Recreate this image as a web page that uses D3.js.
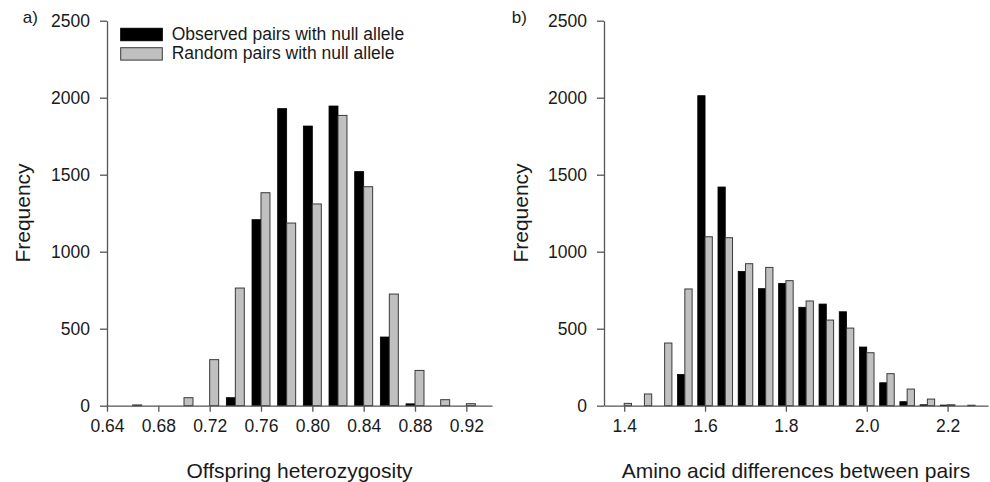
<!DOCTYPE html>
<html>
<head>
<meta charset="utf-8">
<script src="https://cdn.jsdelivr.net/npm/d3@7/dist/d3.min.js"></script>
<style>
  html, body { margin: 0; padding: 0; background: #fff; }
  svg { display: block; }
  text { font-family: Arial, "Liberation Sans", sans-serif; fill: #1a1a1a; }
</style>
</head>
<body>
<svg id="chart" width="990" height="482"></svg>
<script>
// ---------- Data ----------
const binsA = [0.66, 0.68, 0.70, 0.72, 0.74, 0.76, 0.78, 0.80, 0.82, 0.84, 0.86, 0.88, 0.90, 0.92];
const observedA = [0, 0, 0, 0, 52, 1208, 1929, 1816, 1946, 1520, 446, 12, 0, 0];
const randomA   = [5, 0, 52, 299, 764, 1383, 1186, 1310, 1885, 1422, 725, 229, 39, 13];
const xTicksA = [0.64, 0.68, 0.72, 0.76, 0.80, 0.84, 0.88, 0.92];

const binsB = [1.40, 1.45, 1.50, 1.55, 1.60, 1.65, 1.70, 1.75, 1.80, 1.85, 1.90, 1.95, 2.00, 2.05, 2.10, 2.15, 2.20, 2.25];
const observedB = [0, 0, 0, 203, 2013, 1420, 872, 760, 794, 639, 660, 610, 381, 149, 26, 6, 4, 0];
const randomB   = [15, 76, 407, 758, 1097, 1091, 922, 898, 812, 680, 556, 504, 344, 208, 108, 43, 6, 3];
const xTicksB = [1.4, 1.6, 1.8, 2.0, 2.2];

const yTicks = [0, 500, 1000, 1500, 2000, 2500];
const seriesNames = ["Observed pairs with null allele", "Random pairs with null allele"];

// ---------- Layout ----------
const svg = d3.select("#chart");
const yTop = 20.7, yBottom = 405.7;
const axisColor = "#555";
const colObs = "#000000", colRand = "#c0c0c0", strokeRand = "#3a3a3a";

const panels = [
  { label: "a)", bins: binsA, obs: observedA, rnd: randomA, ticks: xTicksA, domain: [0.64, 0.94],
    range: [107, 492], bw: 0.007, fmt: d3.format(".2f"), title: "Offspring heterozygosity",
    labelX: 22.7, freqX: 30, legend: true },
  { label: "b)", bins: binsB, obs: observedB, rnd: randomB, ticks: xTicksB, domain: [1.35, 2.30],
    range: [604, 988], bw: 0.018, fmt: d3.format(".1f"), title: "Amino acid differences between pairs",
    labelX: 511.7, freqX: 528, legend: false }
];

panels.forEach(p => {
  const x = d3.scaleLinear().domain(p.domain).range(p.range);
  const y = d3.scaleLinear().domain([0, 2500]).range([yBottom, yTop]);
  const g = svg.append("g");

  // bars
  const data = p.bins.map((b, i) => ({ b, o: p.obs[i], r: p.rnd[i] }));
  g.selectAll("rect.obs").data(data.filter(d => d.o > 0)).join("rect")
    .attr("class", "obs")
    .attr("x", d => x(d.b - p.bw))
    .attr("width", d => x(d.b) - x(d.b - p.bw))
    .attr("y", d => y(d.o))
    .attr("height", d => y(0) - y(d.o))
    .attr("fill", colObs).attr("stroke", colObs).attr("stroke-width", 0.8);
  g.selectAll("rect.rnd").data(data.filter(d => d.r > 0)).join("rect")
    .attr("class", "rnd")
    .attr("x", d => x(d.b))
    .attr("width", d => x(d.b + p.bw) - x(d.b))
    .attr("y", d => y(d.r))
    .attr("height", d => y(0) - y(d.r))
    .attr("fill", colRand).attr("stroke", strokeRand).attr("stroke-width", 1);

  // x axis
  const xa = g.append("g").attr("transform", `translate(0,${yBottom})`)
    .call(d3.axisBottom(x).tickValues(p.ticks).tickFormat(p.fmt).tickSize(6).tickSizeOuter(0).tickPadding(8));
  // y axis
  const ya = g.append("g").attr("transform", `translate(${p.range[0]},0)`)
    .call(d3.axisLeft(y).tickValues(yTicks).tickFormat(d3.format("d")).tickSize(7).tickSizeOuter(0).tickPadding(10));

  [xa, ya].forEach(a => {
    a.select(".domain").attr("stroke", axisColor).attr("stroke-width", 1.3);
    a.selectAll(".tick line").attr("stroke", axisColor).attr("stroke-width", 1.3);
    a.selectAll(".tick text").attr("fill", "#1a1a1a").style("font-size", "17.5px")
      .style("font-family", "Arial, 'Liberation Sans', sans-serif");
  });

  // titles
  g.append("text").attr("x", (p.range[0] + p.range[1]) / 2).attr("y", 477.5)
    .attr("text-anchor", "middle").style("font-size", "21px").text(p.title);
  g.append("text").attr("transform", `translate(${p.freqX},213) rotate(-90)`)
    .attr("text-anchor", "middle").style("font-size", "21px").text("Frequency");
  g.append("text").attr("x", p.labelX).attr("y", 22.5).style("font-size", "17px").text(p.label);

  if (p.legend) {
    const items = [
      { name: seriesNames[0], fill: colObs, stroke: colObs },
      { name: seriesNames[1], fill: colRand, stroke: strokeRand }
    ];
    const lg = g.append("g");
    items.forEach((it, i) => {
      const yy = 28.3 + i * 19.4;
      lg.append("rect").attr("x", 120.7).attr("y", yy).attr("width", 41.6).attr("height", 12.4)
        .attr("fill", it.fill).attr("stroke", it.stroke).attr("stroke-width", 1);
      lg.append("text").attr("x", 171.7).attr("y", yy + 11.6).style("font-size", "17.5px").text(it.name);
    });
  }
});
</script>
</body>
</html>
